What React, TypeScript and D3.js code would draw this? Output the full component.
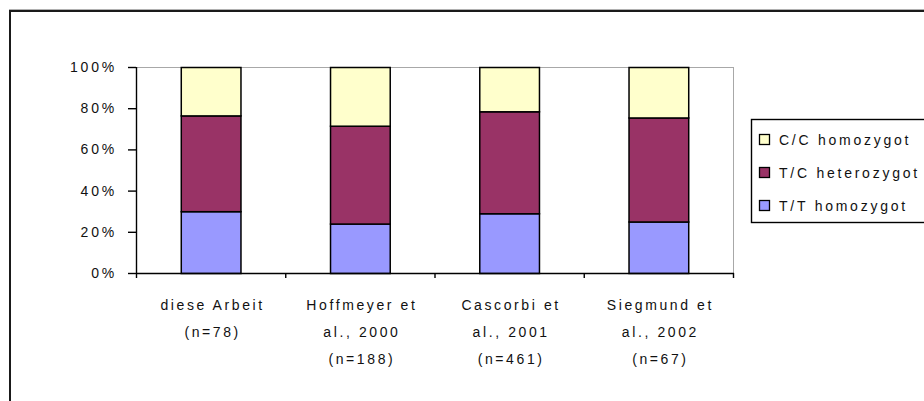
import React from "react";
import * as d3 from "d3";

// Genotype distribution (percent) per study
const studies = [
  ["diese Arbeit", "(n=78)"],
  ["Hoffmeyer et", "al., 2000", "(n=188)"],
  ["Cascorbi et", "al., 2001", "(n=461)"],
  ["Siegmund et", "al., 2002", "(n=67)"],
];
const ttHomozygot = [30, 24, 29, 25];
const tcHeterozygot = [46.5, 47.5, 49.5, 50.5];
const ccHomozygot = [23.5, 28.5, 21.5, 24.5];

const seriesNames = ["T/T homozygot", "T/C heterozygot", "C/C homozygot"];
const seriesColors = ["#9999FF", "#993366", "#FFFFCC"];
const yTicks = [0, 20, 40, 60, 80, 100];

const W = 924;
const H = 401;
const plot = { left: 136, right: 733, top: 67, bottom: 273 };
const FONT = "Arial, 'Liberation Sans', sans-serif";

export default function App() {
  const keys = studies.map((_, i) => String(i));
  const x = d3
    .scaleBand<string>()
    .domain(keys)
    .range([plot.left, plot.right])
    .paddingInner(0.6)
    .paddingOuter(0.3);
  const y = d3.scaleLinear().domain([0, 100]).range([plot.bottom, plot.top]);

  const rows = studies.map((_, i) => ({
    key: String(i),
    tt: ttHomozygot[i],
    tc: tcHeterozygot[i],
    cc: ccHomozygot[i],
  }));
  const layers = d3.stack<any>().keys(["tt", "tc", "cc"])(rows);

  // category boundaries for the x axis tick marks
  const boundaries = d3
    .range(studies.length + 1)
    .map((i) => plot.left + (i * (plot.right - plot.left)) / studies.length);

  return (
    <svg
      width={W}
      height={H}
      style={{ position: "absolute", left: 0, top: 0, background: "#ffffff" }}
      fontFamily={FONT}
    >
      <rect x={0} y={0} width={W} height={H} fill="#ffffff" />
      {/* outer chart frame */}
      <line x1={9} x2={W} y1={9.5} y2={9.5} stroke="#b0b0b0" strokeWidth={1} />
      <line x1={9} x2={W} y1={11} y2={11} stroke="#1a1a1a" strokeWidth={2} />
      <line x1={10} x2={10} y1={10} y2={H} stroke="#1a1a1a" strokeWidth={2} />

      {/* plot area border */}
      <line x1={plot.left} x2={plot.right} y1={plot.top + 0.5} y2={plot.top + 0.5} stroke="#a8a8a8" />
      <line x1={plot.right + 0.5} x2={plot.right + 0.5} y1={plot.top} y2={plot.bottom} stroke="#a8a8a8" />

      {/* stacked bars */}
      {layers.map((layer, li) => (
        <g key={li}>
          {layer.map((d: any) => (
            <rect
              key={d.data.key}
              x={x(d.data.key)! + 0.5}
              y={y(d[1]) + 0.5}
              width={x.bandwidth()}
              height={y(d[0]) - y(d[1])}
              fill={seriesColors[li]}
              stroke="#000"
              strokeWidth={1.5}
            />
          ))}
        </g>
      ))}

      {/* y axis */}
      <line x1={plot.left + 0.5} x2={plot.left + 0.5} y1={plot.top} y2={plot.bottom + 1} stroke="#000" strokeWidth={1.4} />
      {yTicks.map((t) => (
        <g key={t}>
          <line x1={plot.left - 8} x2={plot.left} y1={y(t) + 0.5} y2={y(t) + 0.5} stroke="#000" strokeWidth={1.4} />
          <text
            x={117}
            y={y(t)}
            textAnchor="end"
            dominantBaseline="central"
            fontSize={14}
            letterSpacing={2.8}
            fill="#111"
          >
            {t + "%"}
          </text>
        </g>
      ))}

      {/* x axis */}
      <line x1={plot.left} x2={plot.right + 1} y1={plot.bottom + 0.5} y2={plot.bottom + 0.5} stroke="#000" strokeWidth={1.4} />
      {boundaries.map((bx, i) => (
        <line key={i} x1={bx + 0.5} x2={bx + 0.5} y1={plot.bottom} y2={plot.bottom + 5} stroke="#000" strokeWidth={1.4} />
      ))}
      {studies.map((lines, i) => {
        const cx = x(String(i))! + x.bandwidth() / 2 + 2;
        return (
          <text key={i} textAnchor="middle" fontSize={14} letterSpacing={2.6} fill="#111">
            {lines.map((ln, j) => (
              <tspan key={j} x={cx} y={310 + j * 27}>
                {ln}
              </tspan>
            ))}
          </text>
        );
      })}

      {/* legend */}
      <rect x={751.5} y={119.5} width={200} height={103} fill="#ffffff" stroke="#000" strokeWidth={1.4} />
      {[2, 1, 0].map((si, k) => {
        const cy = 140 + k * 33;
        return (
          <g key={si}>
            <rect x={759.5} y={cy - 5.5} width={10} height={10} fill={seriesColors[si]} stroke="#000" strokeWidth={1.3} />
            <text x={779} y={cy} dominantBaseline="central" fontSize={14} letterSpacing={2.75} fill="#111">
              {seriesNames[si]}
            </text>
          </g>
        );
      })}
    </svg>
  );
}
